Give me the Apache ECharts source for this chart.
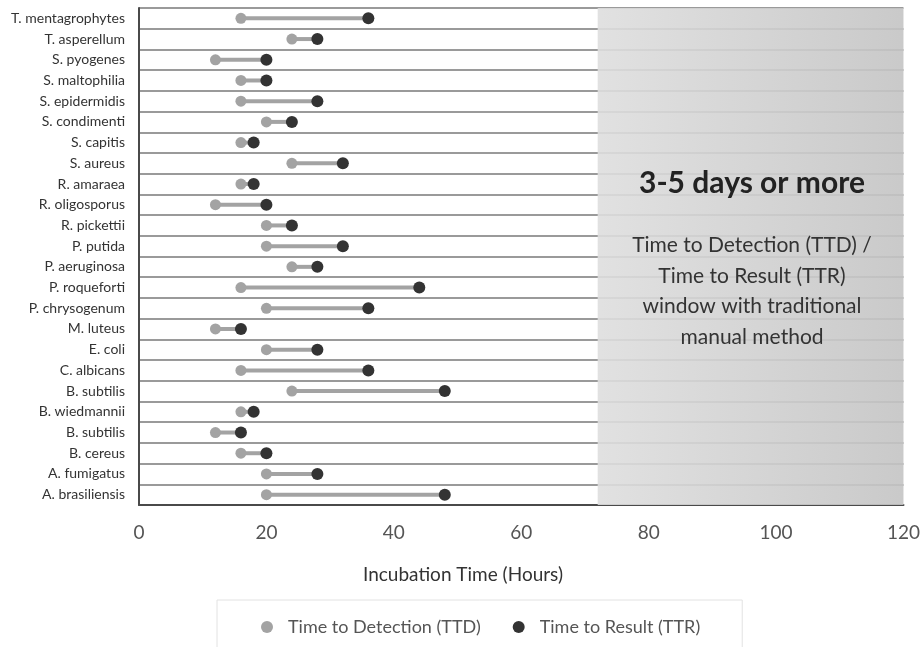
<!DOCTYPE html>
<html><head><meta charset="utf-8">
<script src="https://cdn.jsdelivr.net/npm/echarts@6/dist/echarts.min.js"></script>
<style>html,body{margin:0;padding:0;background:#fff}#c{width:923px;height:647px}</style>
</head><body><div id="c"></div>
<script>
var categories = ["T. mentagrophytes","T. asperellum","S. pyogenes","S. maltophilia","S. epidermidis","S. condimenti","S. capitis","S. aureus","R. amaraea","R. oligosporus","R. pickettii","P. putida","P. aeruginosa","P. roqueforti","P. chrysogenum","M. luteus","E. coli","C. albicans","B. subtilis","B. wiedmannii","B. subtilis","B. cereus","A. fumigatus","A. brasiliensis"];
var ttd = [16,24,12,16,16,20,16,24,16,12,20,20,24,16,20,12,20,16,24,16,12,16,20,20];
var ttr = [36,28,20,20,28,24,18,32,18,20,24,32,28,44,36,16,28,36,48,18,16,20,28,48];
var xTicks = [0,20,40,60,80,100,120];
var manualWindow = [72,120];

var font = 'Lato, "Open Sans", sans-serif';
var chart = echarts.init(document.getElementById('c'));
chart.setOption({
  backgroundColor:'#fff',
  animation:false,
  grid:{left:139,right:17,top:8,bottom:142},
  xAxis:{type:'value',min:xTicks[0],max:xTicks[xTicks.length-1],interval:20,
    axisLine:{show:true,lineStyle:{color:'#4a4a4a',width:2}},
    axisTick:{show:false},splitLine:{show:false},
    axisLabel:{color:'#555',fontSize:19,fontFamily:font,margin:18}},
  yAxis:{type:'category',data:categories,inverse:true,
    axisLine:{show:true,lineStyle:{color:'#4a4a4a',width:2}},
    axisTick:{show:false},
    splitLine:{show:true,lineStyle:{color:'#9a9a9a',width:2}},
    axisLabel:{color:'#333',fontSize:14,fontFamily:font,margin:14}},
  legend:{left:217,top:600,itemGap:32,padding:[18,42,30,44],
    borderColor:'#e2e2e2',borderWidth:1,
    textStyle:{color:'#555',fontSize:18,fontFamily:font,padding:[0,0,0,10]},
    itemWidth:12,itemHeight:12,
    data:[{name:'Time to Detection (TTD)',icon:'circle'},{name:'Time to Result (TTR)',icon:'circle'}]},
  graphic:[
    {type:'text',z:100,style:{x:752,y:183,text:'3-5 days or more',fill:'#222',font:'bold 30px '+font,textAlign:'center',textVerticalAlign:'middle'}},
    {type:'text',z:100,style:{x:752,y:291,text:'Time to Detection (TTD) /\nTime to Result (TTR)\nwindow with traditional\nmanual method',fill:'#333',font:'21px '+font,lineHeight:30.5,textAlign:'center',textVerticalAlign:'middle'}},
    {type:'text',z:100,style:{x:463,y:575,text:'Incubation Time (Hours)',fill:'#333',font:'19px '+font,textAlign:'center',textVerticalAlign:'middle'}}
  ],
  series:[
    {type:'custom',name:'range',silent:true,z:2,
      data:ttd.map(function(v,i){return [v,ttr[i],i];}),
      encode:{x:[0,1],y:2},
      renderItem:function(params,api){
        var a=api.coord([api.value(0),api.value(2)]);
        var b=api.coord([api.value(1),api.value(2)]);
        return {type:'line',shape:{x1:a[0],y1:a[1],x2:b[0],y2:b[1]},style:{stroke:'#a3a3a3',lineWidth:4}};
      },
      markArea:{silent:true,
        itemStyle:{color:new echarts.graphic.LinearGradient(0,0,1,0,[{offset:0,color:'rgba(222,222,222,0.9)'},{offset:1,color:'rgba(196,196,196,0.9)'}])},
        data:[[{xAxis:manualWindow[0]},{xAxis:manualWindow[1]}]]}
    },
    {type:'scatter',name:'Time to Detection (TTD)',z:3,symbolSize:11,
      itemStyle:{color:'#a3a3a3',opacity:1},
      data:ttd.map(function(v,i){return [v,i];})},
    {type:'scatter',name:'Time to Result (TTR)',z:4,symbolSize:12,
      itemStyle:{color:'#333333',opacity:1},
      data:ttr.map(function(v,i){return [v,i];})}
  ]
});
</script></body></html>
